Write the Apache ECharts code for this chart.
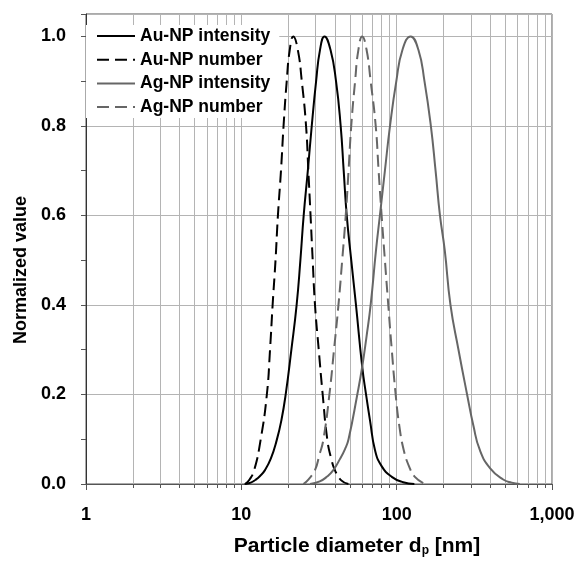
<!DOCTYPE html>
<html>
<head>
<meta charset="utf-8">
<script src="https://cdn.jsdelivr.net/npm/echarts@6/dist/echarts.min.js"></script>
<style>
  html, body { margin: 0; padding: 0; background: #fff; }
  #main { width: 578px; height: 562px; }
</style>
</head>
<body>
<div id="main"></div>
<script>
// [diameter nm, normalized value]
var auIntensity = [
    [10.5, 0], [11.5, 0.003], [12.3, 0.009], [13.2, 0.018], [14.2, 0.031],
    [15.5, 0.057], [16.9, 0.098], [18.1, 0.142], [19.3, 0.2], [21, 0.3],
    [22.7, 0.4], [24, 0.5], [25.2, 0.6], [26.8, 0.7], [28.4, 0.8],
    [30.3, 0.9], [32.1, 0.97], [34.3, 1.0], [37.5, 0.97], [40.7, 0.9],
    [43.6, 0.8], [45.6, 0.7], [47.7, 0.6], [51, 0.5], [54.7, 0.4],
    [60, 0.262], [63.5, 0.2], [67.5, 0.14], [72.5, 0.076], [80, 0.04],
    [93, 0.016], [110, 0.004], [130, 0]
];
var auNumber = [
    [10.6, 0], [11.3, 0.01], [12.1, 0.031], [13.3, 0.098], [14.6, 0.2],
    [15.3, 0.3], [15.9, 0.4], [16.6, 0.5], [17.2, 0.6], [18, 0.7],
    [18.7, 0.8], [19.6, 0.9], [20.5, 0.97], [21.6, 1.0], [23.1, 0.97],
    [24.5, 0.9], [26.1, 0.8], [27, 0.7], [27.9, 0.6], [28.8, 0.5],
    [29.8, 0.4], [31.5, 0.3], [33.4, 0.2], [35.8, 0.098], [38, 0.055],
    [40, 0.031], [44, 0.008], [48.9, 0]
];
var agIntensity = [
    [27.7, 0], [32, 0.006], [35.5, 0.016], [39.1, 0.031], [43, 0.055],
    [46.5, 0.078], [49, 0.1], [55.8, 0.2], [60, 0.262], [64, 0.33],
    [68, 0.4], [73.6, 0.522], [78, 0.6], [84, 0.7], [90.6, 0.8],
    [99.5, 0.9], [109, 0.97], [123, 1.0], [138, 0.97], [151, 0.9],
    [166, 0.8], [178, 0.7], [190, 0.6], [204, 0.522], [222, 0.4],
    [250, 0.3], [284, 0.2], [312, 0.13], [343, 0.076], [400, 0.035],
    [485, 0.01], [550, 0.003], [620, 0]
];
var agNumber = [
    [25.1, 0], [27, 0.01], [29.8, 0.031], [31.8, 0.065], [33.7, 0.098],
    [36.9, 0.2], [39.5, 0.3], [42.2, 0.4], [44.6, 0.5], [47, 0.6],
    [49, 0.7], [51, 0.8], [54, 0.9], [56.7, 0.97], [60, 1.0],
    [64, 0.97], [68, 0.9], [73.3, 0.8], [76.5, 0.7], [80, 0.6],
    [84, 0.5], [88.3, 0.4], [93, 0.3], [98.5, 0.2], [104, 0.13],
    [111, 0.076], [120, 0.04], [131, 0.016], [152, 0]
];
var seriesNames = ['Au-NP intensity', 'Au-NP number', 'Ag-NP intensity', 'Ag-NP number'];

var chart = echarts.init(document.getElementById('main'));

var font = 'Liberation Sans, Arial, sans-serif';
var gridColor = '#b4b4b4';

function curve(name, data, color, dashed) {
    return {
        name: name,
        type: 'line',
        data: data,
        smooth: 0.5,
        symbol: 'none',
        lineStyle: { color: color, width: 2, type: dashed ? [12, 6] : 'solid' },
        itemStyle: { color: color }
    };
}

var option = {
    animation: false,
    backgroundColor: '#fff',
    grid: {
        left: 86, right: 26, top: 14, bottom: 78,
        show: true, borderColor: '#555', borderWidth: 1, backgroundColor: '#fff'
    },
    legend: {
        orient: 'vertical',
        left: 86, top: 25,
        padding: [2, 9, 2, 10],
        itemGap: 5.7,
        itemWidth: 38, itemHeight: 14,
        backgroundColor: '#fff',
        itemStyle: { opacity: 0 }, // line only, no marker
        data: seriesNames,
        textStyle: { fontFamily: font, fontWeight: 'bold', fontSize: 17.5, lineHeight: 18, color: '#000' }
    },
    xAxis: {
        type: 'log', logBase: 10, min: 1, max: 1000,
        name: 'Particle diameter d{sub|p} [nm]',
        nameLocation: 'middle', nameGap: 52,
        nameTextStyle: {
            fontFamily: font, fontWeight: 'bold', fontSize: 21, color: '#000',
            padding: [0, 0, 0, 76],
            rich: { sub: { fontFamily: font, fontWeight: 'bold', fontSize: 12, color: '#000', verticalAlign: 'bottom', padding: [8, 0, 0, 0] } }
        },
        axisLine: { lineStyle: { color: '#555', width: 1 } },
        axisTick: { show: true, length: 6, lineStyle: { color: '#555' } },
        minorTick: { show: true, splitNumber: 9, length: 4, lineStyle: { color: '#555' } },
        splitLine: { show: true, lineStyle: { color: gridColor, width: 1 } },
        minorSplitLine: { show: true, lineStyle: { color: gridColor, width: 1 } },
        axisLabel: {
            margin: 22, fontFamily: font, fontWeight: 'bold', fontSize: 18, color: '#000',
            formatter: function (v) { return String(Math.round(v)).replace(/\B(?=(\d{3})+(?!\d))/g, ','); }
        }
    },
    yAxis: {
        type: 'value', min: 0, max: 1.05, interval: 0.2,
        name: 'Normalized value',
        nameLocation: 'middle', nameGap: 45,
        nameTextStyle: { fontFamily: font, fontWeight: 'bold', fontSize: 18, color: '#000', padding: [0, 42, 0, 0] },
        axisLine: { show: true, lineStyle: { color: '#333', width: 1 } },
        axisTick: { show: true, length: 5, lineStyle: { color: '#555' } },
        minorTick: { show: true, splitNumber: 2, length: 5, lineStyle: { color: '#555' } },
        splitLine: { show: true, lineStyle: { color: gridColor, width: 1 } },
        axisLabel: {
            margin: 20, showMaxLabel: false, fontFamily: font, fontWeight: 'bold', fontSize: 18, color: '#000',
            formatter: function (v) { return v.toFixed(1); }
        }
    },
    series: [
        curve(seriesNames[0], auIntensity, '#000', false),
        curve(seriesNames[1], auNumber, '#000', true),
        curve(seriesNames[2], agIntensity, '#666', false),
        curve(seriesNames[3], agNumber, '#666', true)
    ]
};

chart.setOption(option, true);
</script>
</body>
</html>
